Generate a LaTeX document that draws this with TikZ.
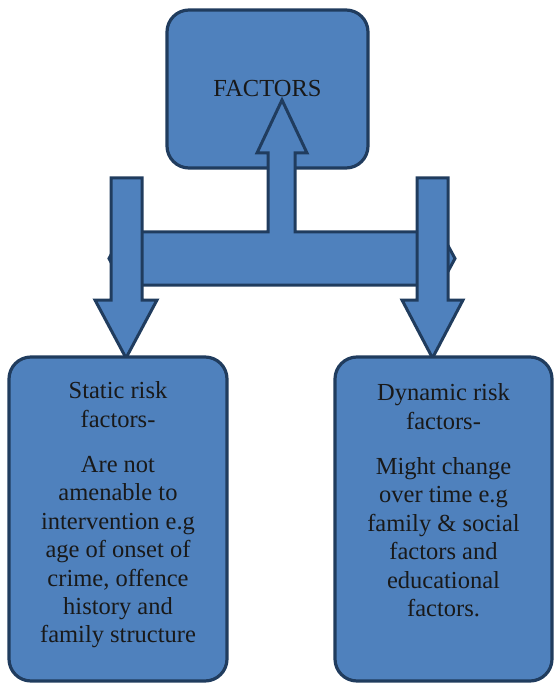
\documentclass[tikz,border=0pt]{standalone}
\usepackage{fontspec}
\setmainfont{Liberation Serif}
\usepackage{tikz}
\usetikzlibrary{positioning}

\definecolor{boxfill}{HTML}{4F81BD}
\definecolor{boxline}{HTML}{203C5E}

\begin{document}
\begin{tikzpicture}[x=1pt,y=-1pt]
\tikzstyle{every node}+=[font=\fontsize{24.5}{28.4}\selectfont, text=black!90]
\tikzstyle{box}=[draw=boxline, fill=boxfill, line width=3.2pt, rounded corners=22pt, inner sep=0pt]
\tikzstyle{boxtext}=[align=center, inner sep=0pt, anchor=north]
\tikzstyle{blockarrow}=[draw=boxline, fill=boxfill, line width=3pt, line join=miter]
\useasboundingbox (0,0) rectangle (555,684);
% top box
\node [box, minimum width=201pt, minimum height=158pt] (factors) at (267.5,89) {FACTORS};
% bar with up arrow into the top box
\draw [blockarrow] (109,258.5) -- (131,218) -- (131,232) -- (268,232) -- (268,153) -- (257,153)
  -- (282,100) -- (307,153) -- (295,153) -- (295,232) -- (433,232) -- (433,218) -- (455,258.5)
  -- (433,299) -- (433,285) -- (131,285) -- (131,299) -- cycle;
% down arrows
\draw [blockarrow] (111,178) -- (142,178) -- (142,300) -- (157,300) -- (126,358) -- (95,300) -- (111,300) -- cycle;
\draw [blockarrow] (417,178) -- (448,178) -- (448,300) -- (463,300) -- (432.5,358) -- (402,300) -- (417,300) -- cycle;
% bottom boxes
\node [box, minimum width=218pt, minimum height=324pt] (static) at (118,519) {};
\node [box, minimum width=217pt, minimum height=324pt] (dynamic) at (443.5,519) {};
\node [boxtext] (statictext) at ([yshift=-26pt]static.north) {Static risk\\factors-\\[17pt]Are not\\amenable to\\intervention e.g\\age of onset of\\crime, offence\\history and\\family structure};
\node [boxtext] (dynamictext) at ([yshift=-28pt]dynamic.north) {Dynamic risk\\factors-\\[17pt]Might change\\over time e.g\\family \& social\\factors and\\educational\\factors.};
\end{tikzpicture}
\end{document}
